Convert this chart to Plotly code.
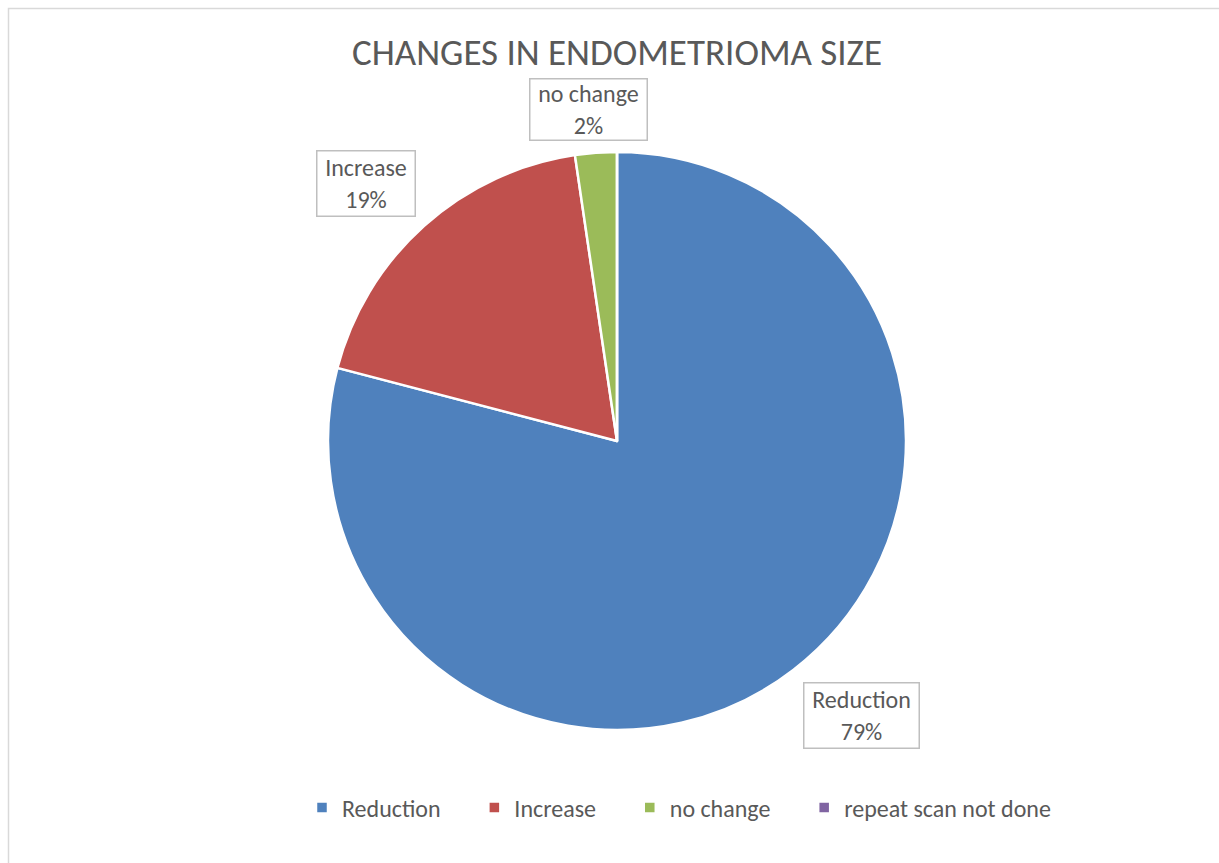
import math
import plotly.graph_objects as go

# ---- data ----
categories = ["Reduction", "Increase", "no change", "repeat scan not done"]
counts = [34, 8, 1, 0]
colors = ["#4F81BD", "#C0504D", "#9BBB59", "#8064A2"]
title_text = "CHANGES IN ENDOMETRIOMA SIZE"

# ---- layout parameters ----
W, H = 1219, 863
cx_px, cy_px, r_px = 617, 441, 289          # pie centre / radius in pixels
label_dist = [1.27, 1.25, 1.15]              # label distance (x radius) per labelled slice
label_nudge = [(20, -16), (-10, 12), (-4, 0)]  # fine pixel nudges for labels
label_box = [(112, 62), (95, 62), (114, 58)] # annotation inner width/height
LEGEND_PAD = "\u2003\u2009"                  # extra gap after each legend entry
FONT = "Calibri, Carlito, Lato, sans-serif"
TXT = "#595959"

total = sum(counts)
pcts = [round(c / total * 100) for c in counts]

fig = go.Figure(go.Pie(
    labels=[c + LEGEND_PAD for c in categories],
    values=counts,
    sort=False,
    direction="clockwise",
    rotation=0,
    marker=dict(colors=colors, line=dict(color="white", width=2.5)),
    textinfo="none",
    hoverinfo="label+percent",
    domain=dict(x=[(cx_px - r_px) / W, (cx_px + r_px) / W],
                y=[(H - cy_px - r_px) / H, (H - cy_px + r_px) / H]),
    showlegend=True,
))

# data labels computed from slice mid-angles
annotations = []
start = 0.0
for i, (cat, c) in enumerate(zip(categories, counts)):
    span = c / total * 360.0
    if c > 0:
        mid = math.radians(start + span / 2)
        d = r_px * label_dist[i]
        x_px = cx_px + d * math.sin(mid) + label_nudge[i][0]
        y_px = cy_px - d * math.cos(mid) + label_nudge[i][1]
        w, h = label_box[i]
        annotations.append(dict(
            x=x_px / W, y=1 - y_px / H, xref="paper", yref="paper",
            text=f"{cat}<br>{pcts[i]}%", showarrow=False,
            font=dict(family=FONT, size=24, color=TXT),
            bordercolor="#BFBFBF", borderwidth=1.5, borderpad=1,
            bgcolor="white", width=w, height=h, align="center",
            xanchor="center", yanchor="middle",
        ))
    start += span

fig.update_layout(
    width=W, height=H,
    margin=dict(l=0, r=0, t=0, b=0),
    paper_bgcolor="white",
    font=dict(family=FONT, color=TXT),
    title=dict(text=title_text, x=617 / W, xanchor="center",
               y=1 - 52 / H, yanchor="middle",
               font=dict(family=FONT, size=37, color=TXT)),
    legend=dict(orientation="h", x=302 / W, xanchor="left",
                y=1 - 808 / H, yanchor="middle",
                font=dict(family=FONT, size=24, color=TXT),
                itemclick=False, traceorder="normal"),
    annotations=annotations,
    shapes=[dict(type="rect", xref="paper", yref="paper",
                 x0=8.5 / W, x1=1.05, y0=-0.05, y1=1 - 8.5 / H,
                 line=dict(color="#D9D9D9", width=1.5), fillcolor="rgba(0,0,0,0)",
                 layer="below")],
)

fig.write_html("out.html")
